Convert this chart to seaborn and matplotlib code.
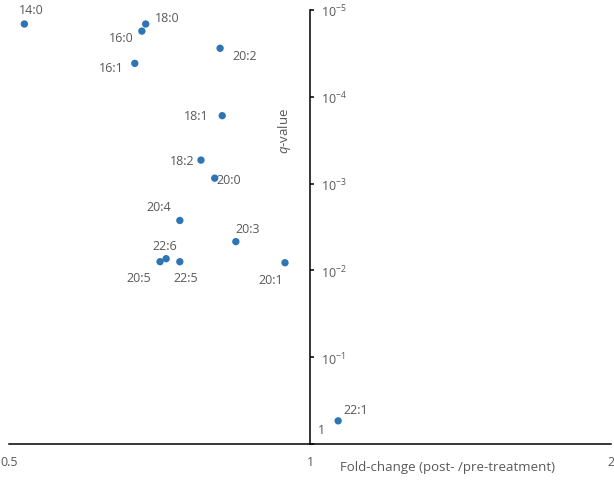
import matplotlib
matplotlib.use('Agg')
import math
import matplotlib.pyplot as plt
import matplotlib.ticker as mticker
import seaborn as sns
import pandas as pd

# fatty acids, fold-change and q-value
acids = ['14:0', '18:0', '16:0', '20:2', '16:1', '18:1', '18:2', '20:0',
         '20:4', '20:3', '22:6', '20:5', '22:5', '20:1', '22:1']
fold_change = [0.518, 0.685, 0.679, 0.813, 0.668, 0.817, 0.778, 0.803,
               0.741, 0.843, 0.718, 0.708, 0.741, 0.944, 1.067]
q_value = [1.45e-5, 1.45e-5, 1.75e-5, 2.76e-5, 4.12e-5, 1.65e-4, 5.36e-4, 8.66e-4,
           2.66e-3, 4.66e-3, 7.33e-3, 7.94e-3, 7.94e-3, 8.16e-3, 0.541]

x_ticks = [0.5, 1, 2]
y_ticks = [1e-5, 1e-4, 1e-3, 1e-2, 1e-1, 1]

# label offsets (pixels, right / down) from each dot
label_offsets = {
    '14:0': (7, -15), '18:0': (22, -7), '16:0': (-21, 6), '20:2': (25, 7),
    '16:1': (-24, 4), '18:1': (-26, 0), '18:2': (-19, 0), '20:0': (14, 1),
    '20:4': (-21, -14), '20:3': (12, -13), '22:6': (-1, -13), '20:5': (-21, 16),
    '22:5': (6, 16), '20:1': (-14, 17), '22:1': (18, -11),
}

sns.set_style('white')
plt.rcParams['font.family'] = ['Open Sans', 'DejaVu Sans']
plt.rcParams['mathtext.fontset'] = 'custom'
plt.rcParams['mathtext.rm'] = 'Open Sans'
plt.rcParams['mathtext.it'] = 'Open Sans:italic'
plt.rcParams['mathtext.default'] = 'regular'

grey = '#595959'
blue = '#2E75B6'

df = pd.DataFrame({'acid': acids, 'fc': fold_change, 'q': q_value})

fig = plt.figure(figsize=(6.14, 4.85), dpi=100)
ax = fig.add_axes([9 / 614, 40 / 485, 602 / 614, 434 / 485])

sns.scatterplot(data=df, x='fc', y='q', color=blue, s=28, edgecolor='none',
                ax=ax, legend=False, zorder=3, clip_on=False)

for name, fx, qy in zip(acids, fold_change, q_value):
    dx, dy = label_offsets[name]
    ax.annotate(name, xy=(fx, qy), xytext=(dx, -dy), textcoords='offset pixels',
                ha='center', va='center', fontsize=9, color=grey)

ax.set_xscale('log', base=2)
ax.set_yscale('log')
ax.set_xlim(0.5, 2)
ax.set_ylim(1, 1e-5)

ax.xaxis.set_major_locator(mticker.FixedLocator(x_ticks))
ax.xaxis.set_minor_locator(mticker.NullLocator())
ax.xaxis.set_major_formatter(mticker.FuncFormatter(lambda v, p: '%g' % v))

ax.yaxis.set_major_locator(mticker.FixedLocator(y_ticks))
ax.yaxis.set_minor_locator(mticker.NullLocator())
ax.yaxis.set_major_formatter(mticker.FuncFormatter(
    lambda v, p: '' if v == 1 else r'$10^{%d}$' % round(math.log10(v))))

for s in ['left', 'top']:
    ax.spines[s].set_visible(False)
ax.spines['right'].set_position(('data', 1))
for s in ['right', 'bottom']:
    ax.spines[s].set_color('black')
    ax.spines[s].set_linewidth(1.1)

ax.yaxis.tick_right()
ax.tick_params(axis='y', which='major', direction='out', length=3, width=1.1,
               color='black', labelsize=9, labelcolor=grey, pad=5)
ax.tick_params(axis='x', which='major', direction='out', length=4, width=1.1,
               color='black', labelsize=9, labelcolor=grey, pad=4)

# the "1" label of the q-value axis sits a bit above the x axis
ax.annotate('1', xy=(1, 1), xytext=(11, 14), textcoords='offset pixels',
            ha='center', va='center', fontsize=9, color=grey)

ax.set_xlabel('Fold-change (post- /pre-treatment)', fontsize=9.5, color=grey)
ax.xaxis.set_label_coords((447 - 9) / 602, -0.037)
ax.set_ylabel(r'$\it{q}$-value', fontsize=9.5, color=grey)
ax.yaxis.set_label_coords((293 - 9) / 602, (445 - 131) / 434)

fig.savefig('out.png', dpi=100)
